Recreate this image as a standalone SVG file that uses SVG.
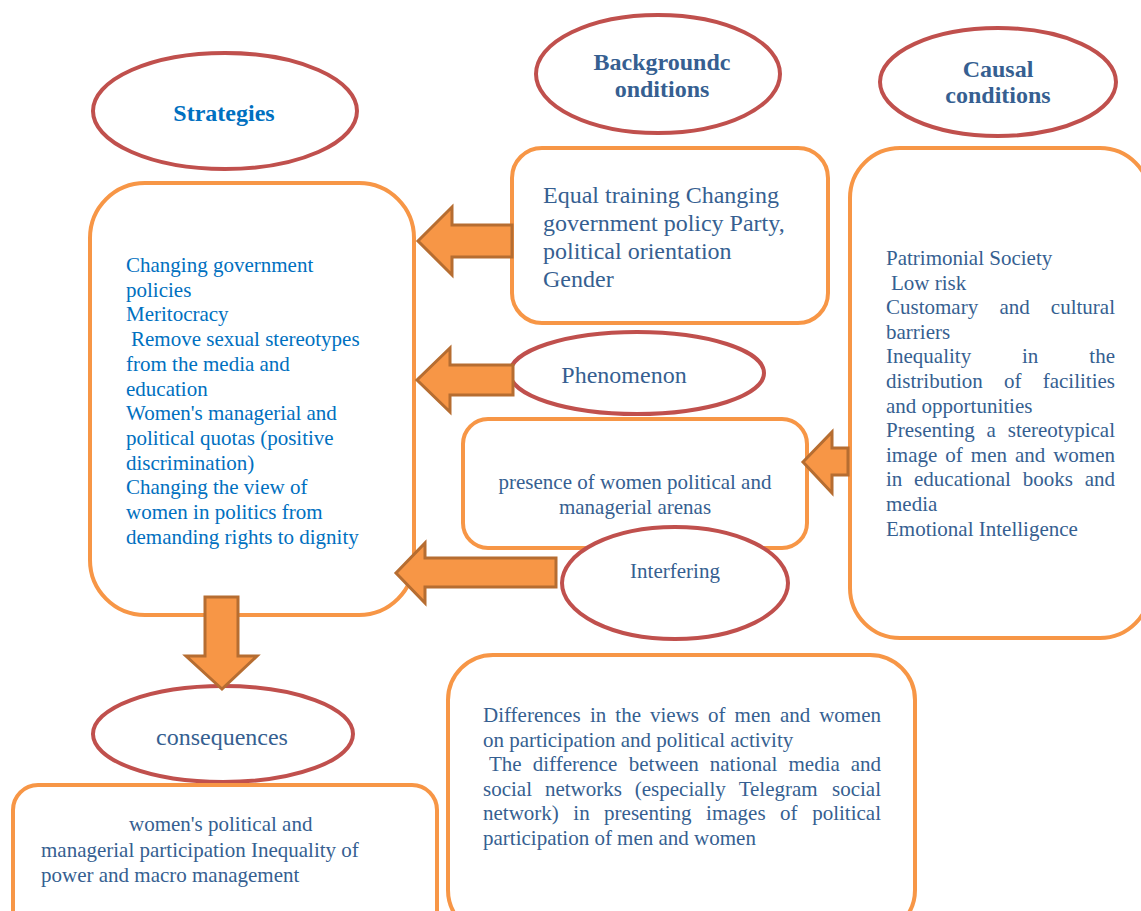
<svg xmlns="http://www.w3.org/2000/svg" width="1141" height="911" viewBox="0 0 1141 911">
<defs>
<style>
.box{fill:#fff;stroke:#F79646;stroke-width:4}
.ell{fill:#fff;stroke:#C0504D;stroke-width:4}
.arr{fill:#F79646;stroke:#B66D31;stroke-width:3;stroke-linejoin:miter}
.t{font-family:"Liberation Serif","Times New Roman",serif;font-size:21px;fill:#365F91}
.tb{font-size:24px}
.h{font-family:"Liberation Serif","Times New Roman",serif;font-size:24px;font-weight:bold;fill:#365F91;text-anchor:middle}
.blue{fill:#0070C0}
.c{text-anchor:middle}
.e{text-anchor:end}
</style>
</defs>
<rect width="1141" height="911" fill="#fff"/>

<g id="strategies-title">
<ellipse class="ell" cx="225" cy="111" rx="132" ry="58"/>
<text class="h blue" x="224" y="121">Strategies</text>
</g>

<g id="background-title">
<ellipse class="ell" cx="658" cy="74" rx="122" ry="59"/>
<text class="h" x="662" y="70">Backgroundc</text>
<text class="h" x="662" y="97">onditions</text>
</g>

<g id="causal-title">
<ellipse class="ell" cx="998" cy="82" rx="118" ry="54"/>
<text class="h" x="998" y="77">Causal</text>
<text class="h" x="998" y="103">conditions</text>
</g>

<g id="strategies-box">
<rect class="box" x="90" y="183" width="324" height="432" rx="55"/>
<text class="t blue">
<tspan x="126" y="272">Changing government</tspan>
<tspan x="126" y="296.7">policies</tspan>
<tspan x="126" y="321.4">Meritocracy</tspan>
<tspan x="131" y="346.1">Remove sexual stereotypes</tspan>
<tspan x="126" y="370.8">from the media and</tspan>
<tspan x="126" y="395.5">education</tspan>
<tspan x="126" y="420.2">Women's managerial and</tspan>
<tspan x="126" y="444.9">political quotas (positive</tspan>
<tspan x="126" y="469.6">discrimination)</tspan>
<tspan x="126" y="494.3">Changing the view of</tspan>
<tspan x="126" y="519">women in politics from</tspan>
<tspan x="126" y="543.7">demanding rights to dignity</tspan>
</text>
</g>

<g id="background-box">
<rect class="box" x="512" y="148" width="316" height="175" rx="30"/>
<text class="t tb">
<tspan x="543" y="203">Equal training Changing</tspan>
<tspan x="543" y="231">government policy Party,</tspan>
<tspan x="543" y="258.5">political orientation</tspan>
<tspan x="543" y="287">Gender</tspan>
</text>
</g>

<g id="causal-box">
<rect class="box" x="850" y="148" width="300" height="490" rx="50"/>
<text class="t" x="886" y="265">Patrimonial Society</text>
<text class="t" x="891" y="289.6">Low risk</text>
<text class="t" x="886" y="314.2">Customary</text>
<text class="t" x="999.4" y="314.2">and</text>
<text class="t e" x="1115" y="314.2">cultural</text>
<text class="t" x="886" y="338.8">barriers</text>
<text class="t" x="886" y="363.4">Inequality</text>
<text class="t" x="1022" y="363.4">in</text>
<text class="t e" x="1115" y="363.4">the</text>
<text class="t" x="886" y="388">distribution</text>
<text class="t" x="1004" y="388">of</text>
<text class="t e" x="1115" y="388">facilities</text>
<text class="t" x="886" y="412.6">and opportunities</text>
<text class="t" x="886" y="437.2">Presenting</text>
<text class="t" x="986.5" y="437.2">a</text>
<text class="t e" x="1115" y="437.2">stereotypical</text>
<text class="t" x="886" y="461.8">image</text>
<text class="t" x="945.3" y="461.8">of</text>
<text class="t" x="970.8" y="461.8">men</text>
<text class="t" x="1015" y="461.8">and</text>
<text class="t e" x="1115" y="461.8">women</text>
<text class="t" x="886" y="486.4">in</text>
<text class="t" x="914" y="486.4">educational</text>
<text class="t" x="1022.7" y="486.4">books</text>
<text class="t e" x="1115" y="486.4">and</text>
<text class="t" x="886" y="511">media</text>
<text class="t" x="886" y="535.6">Emotional Intelligence</text>
</g>

<g id="phenomenon">
<ellipse class="ell" cx="637" cy="373" rx="127" ry="41"/>
<text class="t tb c" x="624" y="383">Phenomenon</text>
</g>

<g id="presence-box">
<rect class="box" x="463" y="419" width="344" height="129" rx="25"/>
<text class="t c" x="635" y="489">presence of women political and</text>
<text class="t c" x="635" y="514">managerial arenas</text>
</g>

<g id="interfering">
<ellipse class="ell" cx="675" cy="583" rx="113" ry="56"/>
<text class="t c" x="675" y="578">Interfering</text>
</g>

<g id="consequences-title">
<ellipse class="ell" cx="223" cy="734" rx="130" ry="48"/>
<text class="t tb c" x="222" y="745">consequences</text>
</g>

<g id="consequences-box">
<rect class="box" x="13" y="785" width="424" height="150" rx="25"/>
<text class="t" x="129" y="831">women's political and</text>
<text class="t" x="41" y="857">managerial participation Inequality of</text>
<text class="t" x="41" y="882">power and macro management</text>
</g>

<g id="interfering-box">
<rect class="box" x="448" y="655" width="467" height="280" rx="45"/>
<text class="t" x="483" y="722">Differences</text>
<text class="t" x="590" y="722">in</text>
<text class="t" x="615.3" y="722">the</text>
<text class="t" x="650" y="722">views</text>
<text class="t" x="708.1" y="722">of</text>
<text class="t" x="734.6" y="722">men</text>
<text class="t" x="779.9" y="722">and</text>
<text class="t e" x="881" y="722">women</text>
<text class="t" x="483" y="746.6">on participation and political activity</text>
<text class="t" x="489" y="771.2">The</text>
<text class="t" x="532.7" y="771.2">difference</text>
<text class="t" x="628.8" y="771.2">between</text>
<text class="t" x="709.8" y="771.2">national</text>
<text class="t" x="788.5" y="771.2">media</text>
<text class="t e" x="881" y="771.2">and</text>
<text class="t" x="483" y="795.8">social</text>
<text class="t" x="544.9" y="795.8">networks</text>
<text class="t" x="634.8" y="795.8">(especially</text>
<text class="t" x="738.7" y="795.8">Telegram</text>
<text class="t e" x="881" y="795.8">social</text>
<text class="t" x="483" y="820.4">network)</text>
<text class="t" x="573.3" y="820.4">in</text>
<text class="t" x="604.1" y="820.4">presenting</text>
<text class="t" x="706.1" y="820.4">images</text>
<text class="t" x="780.1" y="820.4">of</text>
<text class="t e" x="881" y="820.4">political</text>
<text class="t" x="483" y="845">participation of men and women</text>
</g>

<g id="connectors">
<path class="arr" d="M512,225 L452,225 L452,207 L418,241 L452,275 L452,257 L512,257 Z"/>
<path class="arr" d="M513,365 L450,365 L450,348 L417,380 L450,412 L450,395 L513,395 Z"/>
<path class="arr" d="M556,558 L425,558 L425,543 L396,573 L425,603 L425,587 L556,587 Z"/>
<path class="arr" d="M848,448 L832,448 L832,432 L803,462 L832,493 L832,475 L848,475 Z"/>
<path class="arr" d="M205,597 L238,597 L238,656 L257,656 L222,689 L186,656 L205,656 Z"/>
</g>
</svg>
